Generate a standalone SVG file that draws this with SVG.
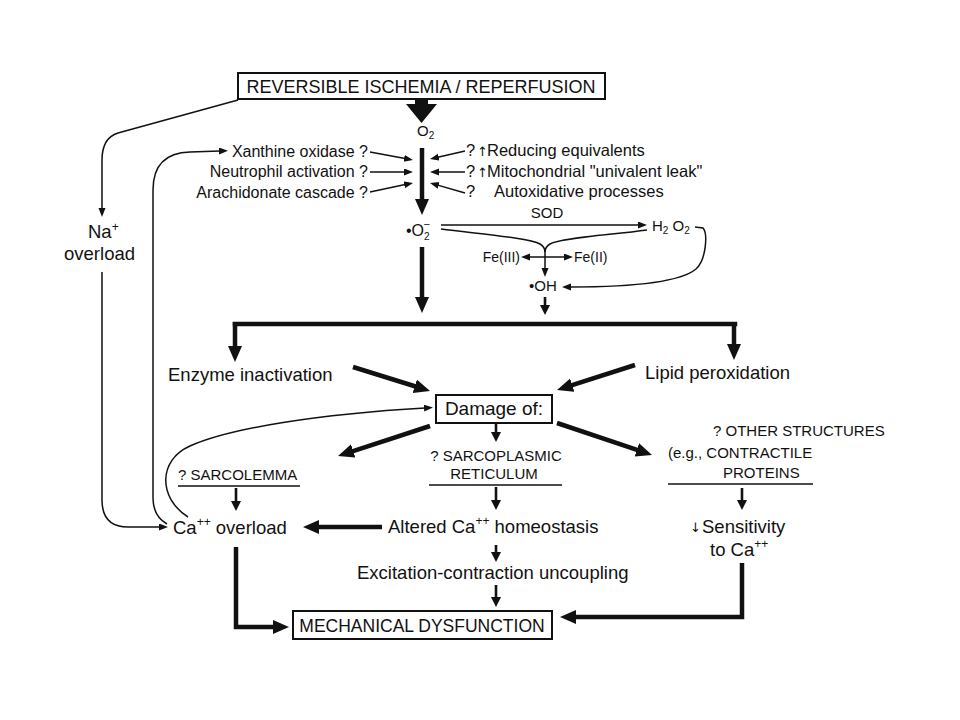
<svg xmlns="http://www.w3.org/2000/svg" width="960" height="720" viewBox="0 0 960 720">
<style>
text{font-family:"Liberation Sans",Arial,Helvetica,sans-serif;fill:#111}
.lg{font-size:18.5px}
.md{font-size:16px}
.mr{font-size:16.5px}
.cap{font-size:15px}
.sm{font-size:14px}
.box{fill:#fff;stroke:#111;stroke-width:2}
.thin{fill:none;stroke:#111;stroke-width:1.5}
.med{fill:none;stroke:#111;stroke-width:2.6}
.thick{fill:none;stroke:#111;stroke-width:4.5}
.ul{stroke:#111;stroke-width:1.6}
.gl{font-family:"DejaVu Sans",sans-serif;font-size:13px}
</style>
<defs>
<marker id="ah" markerUnits="userSpaceOnUse" markerWidth="10" markerHeight="8" refX="1" refY="3.5" orient="auto"><path d="M0,0 L9,3.5 L0,7 Z" fill="#111"/></marker>
<marker id="ahm" markerUnits="userSpaceOnUse" markerWidth="11" markerHeight="11" refX="1" refY="5" orient="auto"><path d="M0,0 L10,5 L0,10 Z" fill="#111"/></marker>
<marker id="ahb" markerUnits="userSpaceOnUse" markerWidth="17" markerHeight="15" refX="1" refY="7" orient="auto"><path d="M0,0 L16,7 L0,14 Z" fill="#111"/></marker>
</defs>
<rect width="960" height="720" fill="#fff"/>

<g id="connectors">
<polygon points="415,98 428,98 428,104 437,104 421.5,123 406,104 415,104" fill="#111"/>
<path class="thick" d="M422,148 L422,200" marker-end="url(#ahb)"/>
<path class="thin" d="M370,152 L405.1,158.5" marker-end="url(#ah)"/>
<path class="thin" d="M370,172 L405,172" marker-end="url(#ah)"/>
<path class="thin" d="M370,192 L405.2,184.6" marker-end="url(#ah)"/>
<path class="thin" d="M465,151 L437.8,157.3" marker-end="url(#ah)"/>
<path class="thin" d="M465,172 L438,172" marker-end="url(#ah)"/>
<path class="thin" d="M465,193 L437.7,185.1" marker-end="url(#ah)"/>
<path class="thin" d="M441,225 L639,225" marker-end="url(#ah)"/>
<path class="thin" d="M441,229 C480,234 530,238 540,244 Q545,247 545,252"/>
<path class="thin" d="M647,230 C610,235 560,238 550,244 Q545,247 545,252"/>
<path class="thin" d="M545,250 L545,269" marker-end="url(#ah)"/>
<path class="thin" d="M545,257 L529,257" marker-end="url(#ah)"/>
<path class="thin" d="M545,257 L565,257" marker-end="url(#ah)"/>
<path class="thin" d="M695,227 L703,228 C708,234 706,260 696,269 C678,284 620,287 570,287" marker-end="url(#ah)"/>
<path class="thick" d="M422,247 L422,298" marker-end="url(#ahb)"/>
<path class="med" d="M545,297 L545,306" marker-end="url(#ahm)"/>
<path class="thick" d="M235,324 L735,324" stroke-linecap="square"/>
<path class="thick" d="M235,322 L235,347" marker-end="url(#ahb)"/>
<path class="thick" d="M734,322 L734,345" marker-end="url(#ahb)"/>
<path class="thick" d="M353,367 L415.7,386.5" marker-end="url(#ahb)"/>
<path class="thick" d="M635,365 L571.3,385.4" marker-end="url(#ahb)"/>
<path class="thick" d="M430,426 L352.3,451.3" marker-end="url(#ahb)"/>
<path class="thick" d="M557,423 L637.8,450.2" marker-end="url(#ahb)"/>
<path class="med" d="M496,424 L496,433" marker-end="url(#ahm)"/>
<path class="med" d="M496,487 L496,501" marker-end="url(#ahm)"/>
<path class="med" d="M496,545 L496,553" marker-end="url(#ahm)"/>
<path class="med" d="M496,585 L496,598" marker-end="url(#ahm)"/>
<path class="med" d="M236,488 L236,502" marker-end="url(#ahm)"/>
<path class="med" d="M742,488 L742,501" marker-end="url(#ahm)"/>
<path class="thick" d="M382,527 L318,527" marker-end="url(#ahb)"/>
<path class="thick" d="M236,547 L236,627 L274,627" stroke-linejoin="miter" marker-end="url(#ahb)"/>
<path class="thick" d="M742,563 L742,617 L575,617" stroke-linejoin="miter" marker-end="url(#ahb)"/>
<path class="thin" d="M238,100 L118,133 Q102,138 102,160 L102,209" marker-end="url(#ah)"/>
<path class="thin" d="M102,272 L102,500 Q102,527 128,527 L160,527" marker-end="url(#ah)"/>
<path class="thin" d="M167,524 Q153,516 153,498 L153,190 Q153,153 190,152 L220,151" marker-end="url(#ah)"/>
<path class="thin" d="M188,517 C158,498 158,460 190,446 C230,428 320,414 425,408" marker-end="url(#ah)"/>
</g>

<g id="node-ischemia">
<rect class="box" x="238" y="73" width="367" height="26"/>
<text x="421" y="93" text-anchor="middle" font-size="18">REVERSIBLE ISCHEMIA / REPERFUSION</text>
</g>

<g id="node-o2">
<text class="cap" x="417" y="136">O<tspan font-size="10" dy="3">2</tspan></text>
</g>

<g id="node-left-sources">
<text class="md" x="368" y="157" text-anchor="end">Xanthine oxidase ?</text>
<text class="md" x="368" y="177" text-anchor="end">Neutrophil activation ?</text>
<text class="md" x="368" y="198" text-anchor="end">Arachidonate cascade ?</text>
</g>

<g id="node-right-sources">
<text class="mr" x="466" y="156">?</text>
<text class="gl" x="477" y="156">↑</text>
<text class="mr" x="487" y="156">Reducing equivalents</text>
<text class="mr" x="466" y="177">?</text>
<text class="gl" x="477" y="177">↑</text>
<text class="mr" x="487" y="177">Mitochondrial "univalent leak"</text>
<text class="mr" x="466" y="197">?</text>
<text class="mr" x="494" y="197">Autoxidative processes</text>
</g>

<g id="node-superoxide">
<text class="md" x="406" y="236">•O<tspan font-size="10" dy="4">2</tspan><tspan font-size="11" dx="-6" dy="-12">−</tspan></text>
</g>

<g id="node-sod">
<text class="cap" x="547" y="218" text-anchor="middle">SOD</text>
</g>

<g id="node-h2o2">
<text class="cap" x="652" y="231">H<tspan font-size="10" dy="3">2</tspan><tspan dy="-3"> O</tspan><tspan font-size="10" dy="3">2</tspan></text>
</g>

<g id="node-fe">
<text class="sm" x="520" y="262" text-anchor="end">Fe(III)</text>
<text class="sm" x="574" y="262">Fe(II)</text>
</g>

<g id="node-oh">
<text class="cap" x="543" y="291" text-anchor="middle">•OH</text>
</g>

<g id="node-enzyme">
<text class="lg" x="168" y="381">Enzyme inactivation</text>
</g>

<g id="node-lipid">
<text class="lg" x="645" y="379">Lipid peroxidation</text>
</g>

<g id="node-damage">
<rect class="box" x="436" y="395" width="116" height="28" stroke-width="1.8"/>
<text x="494" y="415" text-anchor="middle" font-size="19">Damage of:</text>
</g>

<g id="node-sarcolemma">
<text class="cap" x="178" y="480">? SARCOLEMMA</text>
<line class="ul" x1="178" y1="486" x2="300" y2="486"/>
</g>

<g id="node-sr">
<text class="cap" x="496" y="461" text-anchor="middle">? SARCOPLASMIC</text>
<text class="cap" x="494" y="479" text-anchor="middle">RETICULUM</text>
<line class="ul" x1="429" y1="485" x2="562" y2="485"/>
</g>

<g id="node-other">
<text class="cap" x="713" y="436">? OTHER STRUCTURES</text>
<text class="cap" x="668" y="458">(e.g., CONTRACTILE</text>
<text class="cap" x="723" y="478">PROTEINS</text>
<line class="ul" x1="668" y1="484" x2="813" y2="484"/>
</g>

<g id="node-ca-overload">
<text class="lg" x="173" y="534">Ca<tspan font-size="12" dy="-8">++</tspan><tspan dy="8"> overload</tspan></text>
</g>

<g id="node-altered">
<text class="lg" x="388" y="533">Altered Ca<tspan font-size="12" dy="-8">++</tspan><tspan dy="8"> homeostasis</tspan></text>
</g>

<g id="node-sensitivity">
<text class="gl" x="690" y="532">↓</text>
<text class="lg" x="702" y="533">Sensitivity</text>
<text class="lg" x="710" y="556">to Ca<tspan font-size="12" dy="-8">++</tspan></text>
</g>

<g id="node-excitation">
<text class="lg" x="357" y="579">Excitation-contraction uncoupling</text>
</g>

<g id="node-mechanical">
<rect class="box" x="293" y="611" width="259" height="28"/>
<text x="422" y="632" text-anchor="middle" font-size="17.5">MECHANICAL DYSFUNCTION</text>
</g>

<g id="node-na">
<text class="lg" x="88" y="238">Na<tspan font-size="12" dy="-7">+</tspan></text>
<text class="lg" x="135" y="260" text-anchor="end">overload</text>
</g>
</svg>
